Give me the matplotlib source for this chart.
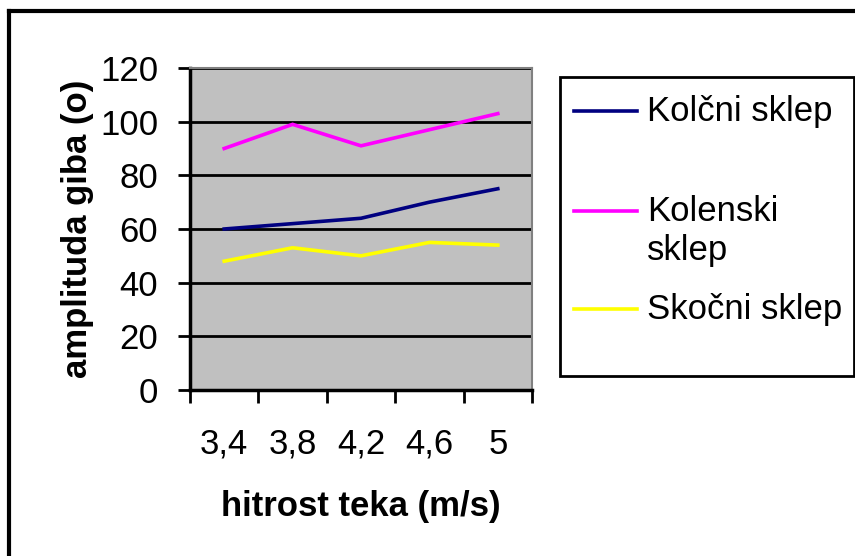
import matplotlib
matplotlib.use("Agg")
import matplotlib.pyplot as plt
from matplotlib.lines import Line2D
from matplotlib.patches import Rectangle

plt.rcParams['font.family'] = ['Liberation Sans', 'DejaVu Sans']

# Data
speeds = ["3,4", "3,8", "4,2", "4,6", "5"]
kolcni = [60, 62, 64, 70, 75]
kolenski = [90, 99, 91, 97, 103]
skocni = [48, 53, 50, 55, 54]
series_names = ["Kolčni sklep", "Kolenski\nsklep", "Skočni sklep"]
series_colors = ["#000080", "#FF00FF", "#FFFF00"]
y_ticks = [0, 20, 40, 60, 80, 100, 120]

FS = 25
W, H = 855, 556
fig = plt.figure(figsize=(W / 100, H / 100), dpi=100)
fig.patch.set_facecolor("white")


def fx(px):
    return px / W


def fy(py):
    return 1 - py / H


# Outer chart frame (top and left edges visible)
fig.add_artist(Line2D([fx(9), fx(9)], [fy(11), fy(H + 5)], color="black", lw=3,
                      transform=fig.transFigure))
fig.add_artist(Line2D([fx(9), fx(W + 5)], [fy(11), fy(11)], color="black", lw=3,
                      transform=fig.transFigure))

left, top, right, bottom = 190, 68, 532, 390
ax = fig.add_axes([fx(left), fy(bottom), fx(right - left), (bottom - top) / H])
ax.set_facecolor("#C0C0C0")

x = list(range(len(speeds)))
for vals, col in zip([kolcni, kolenski, skocni], series_colors):
    ax.plot(x, vals, color=col, lw=2.6, solid_joinstyle="miter")

ax.set_xlim(-0.5, len(speeds) - 0.5)
ax.set_ylim(0, 120)
ax.set_yticks(y_ticks)
ax.yaxis.grid(True, color="black", lw=2)
ax.set_axisbelow(True)

ax.set_xticks(x)
ax.set_xticklabels(speeds)
ax.set_xticks([i - 0.5 for i in range(len(speeds) + 1)], minor=True)
ax.tick_params(axis="x", which="major", length=0, pad=27, labelsize=FS)
ax.tick_params(axis="x", which="minor", length=9, width=2, direction="out", color="black")
ax.tick_params(axis="y", which="major", length=9, width=2, direction="out", pad=14, labelsize=FS)

for side in ["top", "right"]:
    ax.spines[side].set_color("#808080")
    ax.spines[side].set_linewidth(1.5)
for side in ["left", "bottom"]:
    ax.spines[side].set_color("black")
    ax.spines[side].set_linewidth(2.5)

ax.set_ylabel("amplituda giba (o)", fontsize=FS, fontweight="bold", labelpad=4)
ax.set_xlabel("hitrost teka (m/s)", fontsize=FS, fontweight="bold", labelpad=21)

# Legend box
fig.add_artist(Rectangle((fx(560), fy(376)), fx(854 - 560), (376 - 77) / H,
                         transform=fig.transFigure, facecolor="white",
                         edgecolor="black", lw=2))
key_y = [111, 211, 309]
text_y = [111, 231, 309]
for name, col, ky, ty in zip(series_names, series_colors, key_y, text_y):
    fig.add_artist(Line2D([fx(574), fx(637)], [fy(ky), fy(ky)], color=col, lw=2.6,
                          transform=fig.transFigure))
    fig.text(fx(647), fy(ty), name, fontsize=FS, va="center", ha="left",
             linespacing=1.25)

fig.savefig("out.png", dpi=100)
